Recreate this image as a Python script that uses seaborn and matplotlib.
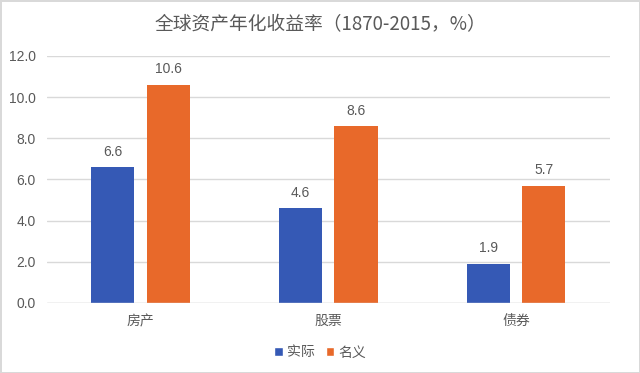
import matplotlib
matplotlib.use("Agg")
import matplotlib.pyplot as plt
import seaborn as sns
import pandas as pd
from matplotlib.patches import Patch

categories = ["房产", "股票", "债券"]
real_values = [6.6, 4.6, 1.9]
nominal_values = [10.6, 8.6, 5.7]
series_names = ["实际", "名义"]
yticks = [0, 2, 4, 6, 8, 10, 12]

df = pd.DataFrame({
    "cat": categories * 2,
    "val": real_values + nominal_values,
    "series": [series_names[0]] * 3 + [series_names[1]] * 3,
})

sns.set_theme(style="white")
plt.rcParams['font.family'] = ['Noto Sans CJK SC', 'DejaVu Sans']
num_font = ['Liberation Sans', 'DejaVu Sans']

fig = plt.figure(figsize=(6.4, 3.73), dpi=100)
fig.patch.set_edgecolor("#d9d9d9")
fig.patch.set_linewidth(2)
ax = fig.add_axes([0.073, 0.188, 0.88, 0.662])

palette = {"实际": "#3559b5", "名义": "#e8692a"}
sns.barplot(data=df, x="cat", y="val", hue="series", palette=palette,
            width=0.59, gap=0.22, ax=ax, saturation=1, legend=False,
            linewidth=0)

for cont in ax.containers:
    ax.bar_label(cont, fmt="%.1f", padding=6, fontsize=10, color="#595959",
                 family=num_font)

ax.set_ylim(0, 12)
ax.set_yticks(yticks)
ax.set_yticklabels([f"{v:.1f}" for v in yticks], fontsize=10, color="#595959",
                   family=num_font)
ax.tick_params(axis="x", labelsize=10, colors="#595959", length=0, pad=8)
ax.tick_params(axis="y", length=0, pad=8)
ax.yaxis.grid(True, color="#d9d9d9", linewidth=1)
ax.set_axisbelow(True)
for s in ax.spines.values():
    s.set_visible(False)
ax.axhline(0, color="#d9d9d9", linewidth=1)
ax.set_xlabel("")
ax.set_ylabel("")
ax.set_xlim(-0.5, 2.5)

fig.text(0.5, 0.935, "全球资产年化收益率（1870-2015，%）", ha="center", va="center",
         fontsize=13.5, color="#595959")

handles = [Patch(facecolor=palette[n], label=n) for n in series_names]
fig.legend(handles=handles, loc="center", bbox_to_anchor=(0.5, 0.055), ncol=2,
           frameon=False, fontsize=10, handlelength=0.6, handleheight=0.6,
           handletextpad=0.3, columnspacing=0.8, labelcolor="#595959")

fig.savefig("out.png", dpi=100)
